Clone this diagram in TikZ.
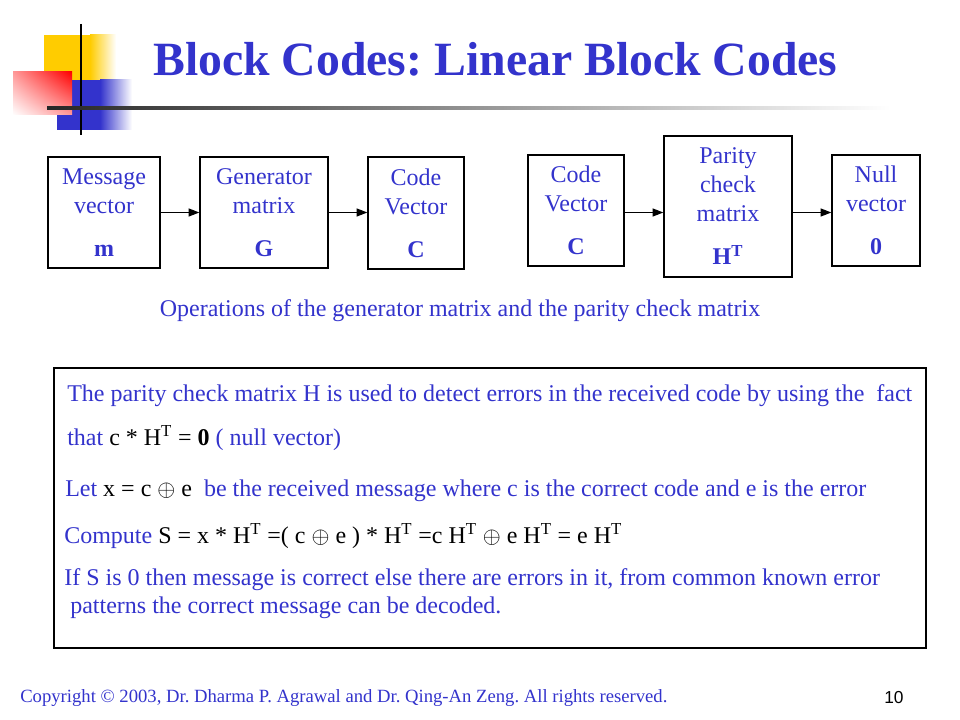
\documentclass[tikz,border=0pt]{standalone}
\usepackage{fontspec}
\setmainfont{Liberation Serif}
\newfontfamily\arialfont{Liberation Sans}
\usetikzlibrary{arrows.meta,shadings}
\definecolor{slideblue}{RGB}{51,51,204}
\definecolor{logoyellow}{RGB}{255,204,0}
\definecolor{logored}{RGB}{255,0,0}
\frenchspacing
\begin{document}
\begin{tikzpicture}[x=0.75pt,y=-0.75pt,
	blk/.style={draw, line width=1pt, align=center, inner sep=0pt, text=slideblue, font=\fontsize{18}{21.75}\selectfont},
	arr/.style={-{Triangle[length=8pt,width=6pt]}, line width=0.8pt},
	txt/.style={anchor=base west, inner sep=0pt, text=slideblue, font=\fontsize{18}{21.75}\selectfont}]
	\useasboundingbox (0,0) rectangle (960,720);
	% logo
	\fill [logoyellow] (44,35) rectangle (90,80);
	\shade [left color=logoyellow, right color=white] (90,35) rectangle (116,80);
	\fill [slideblue] (57,80) rectangle (100,130);
	\shade [left color=slideblue, right color=white] (100,80) rectangle (132,130);
	\shade [upper right=logored, lower left=white, upper left=logored!40!white, lower right=logored!40!white] (13,72) rectangle (72,115);
	\draw [line width=2pt] (81,24) -- (81,135);
	\shade [left color=black!85, middle color=black!30, right color=white] (47,107) rectangle (890,109.5);
	% title
	\node [anchor=base west, inner sep=0pt, text=slideblue, font=\fontsize{35.8}{40}\selectfont\bfseries] (title) at (153,76) {Block Codes: Linear Block Codes};
	% blocks
	\node [blk, minimum width=84pt, minimum height=83.25pt] (msg) at (104,212.5) {Message\\vector\\[10.5pt]\textbf{m}};
	\node [blk, minimum width=96pt, minimum height=83.25pt] (gen) at (264,212.5) {Generator\\matrix\\[10.5pt]\textbf{G}};
	\node [blk, minimum width=72pt, minimum height=84pt] (cv1) at (416,213) {Code\\Vector\\[10.5pt]\textbf{C}};
	\node [blk, minimum width=72pt, minimum height=83.25pt] (cv2) at (576,210.5) {Code\\Vector\\[10.5pt]\textbf{C}};
	\node [blk, minimum width=96pt, minimum height=105.75pt] (pcm) at (728,206.5) {Parity\\check\\matrix\\[10.5pt]\textbf{H\textsuperscript{T}}};
	\node [blk, minimum width=66pt, minimum height=83.25pt] (nul) at (876,210.5) {Null\\vector\\[10.5pt]\textbf{0}};
	\draw [arr] (msg) -- (gen);
	\draw [arr] (gen.east) -- (gen.east -| cv1.west);
	\draw [arr] (cv2.east |- msg.east) -- (pcm.west |- msg.east);
	\draw [arr] (pcm.east |- msg.east) -- (nul.west |- msg.east);
	\node [txt, anchor=base] (caption) at (460,316) {Operations of the generator matrix and the parity check matrix};
	% explanation box
	\node [draw, line width=1pt, minimum width=654pt, minimum height=210pt, inner sep=0pt] (info) at (490,508) {};
	\node [txt] (l1) at (67,401) {The parity check matrix H is used to detect errors in the received code by using the\ \ fact};
	\node [txt] (l2) at (67,445) {that {\color{black}c * H\textsuperscript{T} = \textbf{0}} ( null vector)};
	\node [txt] (l3) at (65,496) {Let {\color{black}x = c $\oplus$ e}\ \ be the received message where c is the correct code and e is the error};
	\node [txt] (l4) at (64,543) {Compute {\color{black}S = x * H\textsuperscript{T} =( c\ $\oplus$ e ) * H\textsuperscript{T} =c H\textsuperscript{T} $\oplus$ e H\textsuperscript{T} = e H\textsuperscript{T}}};
	\node [txt] (l5) at (64,585) {If S is 0 then message is correct else there are errors in it, from common known error};
	\node [txt] (l6) at (70,613) {patterns the correct message can be decoded.};
	% footer
	\node [txt, font=\fontsize{14}{16}\selectfont] (copy) at (20,702) {Copyright \textcopyright\ 2003, Dr. Dharma P. Agrawal and Dr. Qing-An Zeng. All rights reserved.};
	\node [anchor=base west, inner sep=0pt, font=\arialfont\fontsize{13}{15}\selectfont] (page) at (884,703) {10};
\end{tikzpicture}
\end{document}
